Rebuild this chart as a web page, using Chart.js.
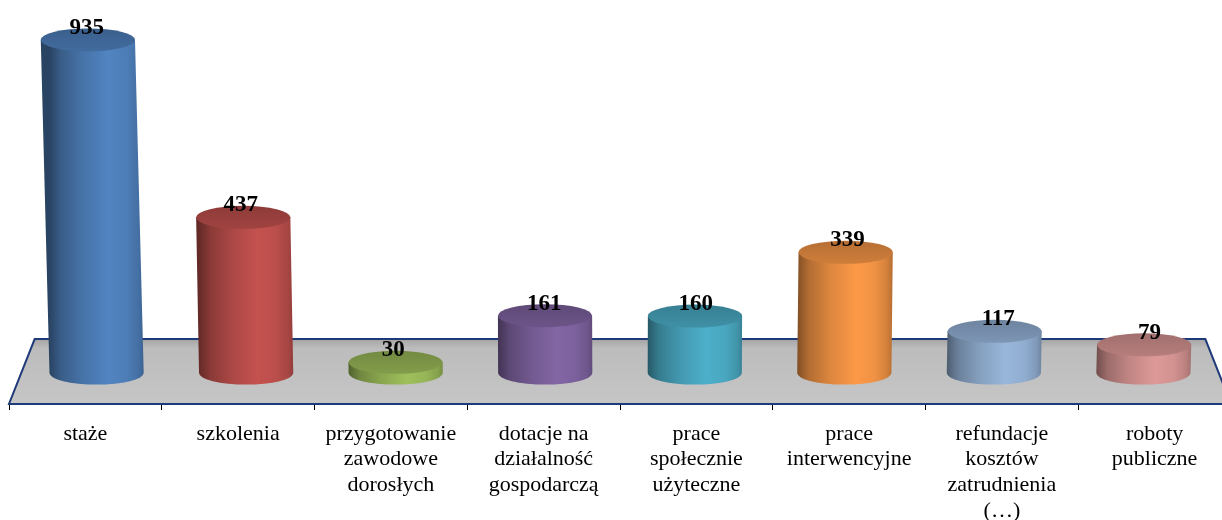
<!DOCTYPE html>
<html><head><meta charset="utf-8">
<script src="https://cdn.jsdelivr.net/npm/chart.js@4.4.0/dist/chart.umd.min.js"></script>
<style>
html,body{margin:0;padding:0;background:#fff;overflow:hidden;width:1222px;height:520px}
#wrap{width:1240px;height:520px;position:relative}
</style></head>
<body><div id="wrap"><canvas id="c" width="1240" height="520"></canvas></div>
<script>
const categories = [
  'staże',
  'szkolenia',
  ['przygotowanie', 'zawodowe', 'dorosłych'],
  ['dotacje na', 'działalność', 'gospodarczą'],
  ['prace', 'społecznie', 'użyteczne'],
  ['prace', 'interwencyjne'],
  ['refundacje', 'kosztów', 'zatrudnienia', '(…)'],
  ['roboty', 'publiczne']
];
const values = [935, 437, 30, 161, 160, 339, 117, 79];
const colors = ['#4f81bd', '#c0504d', '#9bbb59', '#8064a2', '#4bacc6', '#f79646', '#95b3d7', '#d99694'];

function shade(hex, f) {
  const n = parseInt(hex.slice(1), 16);
  let r = (n >> 16) & 255, g = (n >> 8) & 255, b = n & 255;
  const m = v => Math.max(0, Math.min(255, Math.round(v * f)));
  return 'rgb(' + m(r) + ',' + m(g) + ',' + m(b) + ')';
}

const cylinderPlugin = {
  id: 'cylinders',
  beforeDatasetsDraw(chart) {
    const ctx = chart.ctx, a = chart.chartArea;
    const meta = chart.getDatasetMeta(0);
    const base = meta.data[0].base;
    const mid = (a.left + a.right) / 2;
    const half = (a.right - a.left) / 2;
    const backY = base - 34, frontY = a.bottom;
    const bk = 0.958;
    ctx.save();
    const g = ctx.createLinearGradient(0, backY, 0, frontY);
    g.addColorStop(0, '#a4a4a4');
    g.addColorStop(0.14, '#bcbcbc');
    g.addColorStop(1, '#c6c6c6');
    ctx.beginPath();
    ctx.moveTo(mid - half * bk, backY);
    ctx.lineTo(mid + half * bk, backY);
    ctx.lineTo(a.right, frontY);
    ctx.lineTo(a.left, frontY);
    ctx.closePath();
    ctx.fillStyle = g;
    ctx.fill();
    ctx.strokeStyle = '#1f3a78';
    ctx.lineWidth = 2;
    ctx.lineJoin = 'miter';
    ctx.stroke();
    ctx.restore();
  },
  afterDatasetsDraw(chart) {
    const ctx = chart.ctx, a = chart.chartArea;
    const meta = chart.getDatasetMeta(0);
    const mid = (a.left + a.right) / 2;
    const k = 0.979;
    ctx.save();
    meta.data.forEach((bar, i) => {
      const col = colors[i];
      const xf = bar.x;
      const yb = bar.base, yt = bar.y;
      const h = yb - yt;
      const cxb = mid + (xf - mid) * k;
      const cxt = mid + (cxb - mid) * (1 + 0.00005 * h);
      const rx = bar.width * k / 2;
      const ry = 11.5;
      const sg = ctx.createLinearGradient(cxb - rx, 0, cxb + rx, 0);
      sg.addColorStop(0, shade(col, 0.52));
      sg.addColorStop(0.12, shade(col, 0.72));
      sg.addColorStop(0.35, shade(col, 0.89));
      sg.addColorStop(0.62, shade(col, 1.02));
      sg.addColorStop(0.82, shade(col, 0.97));
      sg.addColorStop(0.95, shade(col, 0.86));
      sg.addColorStop(1, shade(col, 0.76));
      ctx.beginPath();
      ctx.moveTo(cxt - rx, yt);
      ctx.lineTo(cxt + rx, yt);
      ctx.lineTo(cxb + rx, yb);
      ctx.ellipse(cxb, yb, rx, ry, 0, 0, Math.PI, false);
      ctx.closePath();
      ctx.fillStyle = sg;
      ctx.fill();
      const tg = ctx.createLinearGradient(0, yt - ry, 0, yt + ry);
      tg.addColorStop(0, shade(col, 0.74));
      tg.addColorStop(1, shade(col, 0.84));
      ctx.beginPath();
      ctx.ellipse(cxt, yt, rx, ry, 0, 0, Math.PI * 2);
      ctx.fillStyle = tg;
      ctx.fill();
    });
    ctx.font = 'bold 23px "Liberation Serif"';
    ctx.fillStyle = '#000';
    ctx.textAlign = 'center';
    ctx.textBaseline = 'middle';
    meta.data.forEach((bar, i) => {
      const h = bar.base - bar.y;
      const cxb = mid + (bar.x - mid) * k;
      const cxt = mid + (cxb - mid) * (1 + 0.00005 * h);
      const lx = (bar.x + cxt) / 2;
      ctx.fillText(String(values[i]), lx, bar.y - 12);
    });
    ctx.restore();
  }
};

new Chart(document.getElementById('c'), {
  type: 'bar',
  data: {
    labels: categories,
    datasets: [{
      data: values,
      backgroundColor: 'rgba(0,0,0,0)',
      borderWidth: 0,
      categoryPercentage: 1,
      barPercentage: 0.63
    }]
  },
  options: {
    responsive: false,
    animation: false,
    devicePixelRatio: 1,
    layout: { padding: { left: 9, right: 9, top: 20, bottom: 0 } },
    plugins: { legend: { display: false }, tooltip: { enabled: false } },
    scales: {
      y: { display: false, min: -87, max: 991 },
      x: {
        offset: true,
        border: { display: false },
        grid: { display: true, drawOnChartArea: false, drawTicks: true, tickLength: 6, color: '#000', lineWidth: 1 },
        ticks: {
          autoSkip: false, maxRotation: 0, minRotation: 0, padding: 11,
          color: '#000',
          font: { family: '"Liberation Serif"', size: 22, lineHeight: 1.17 }
        },
        afterFit(scale) { scale.height = 116; }
      }
    }
  },
  plugins: [cylinderPlugin]
});
</script>
</body></html>
